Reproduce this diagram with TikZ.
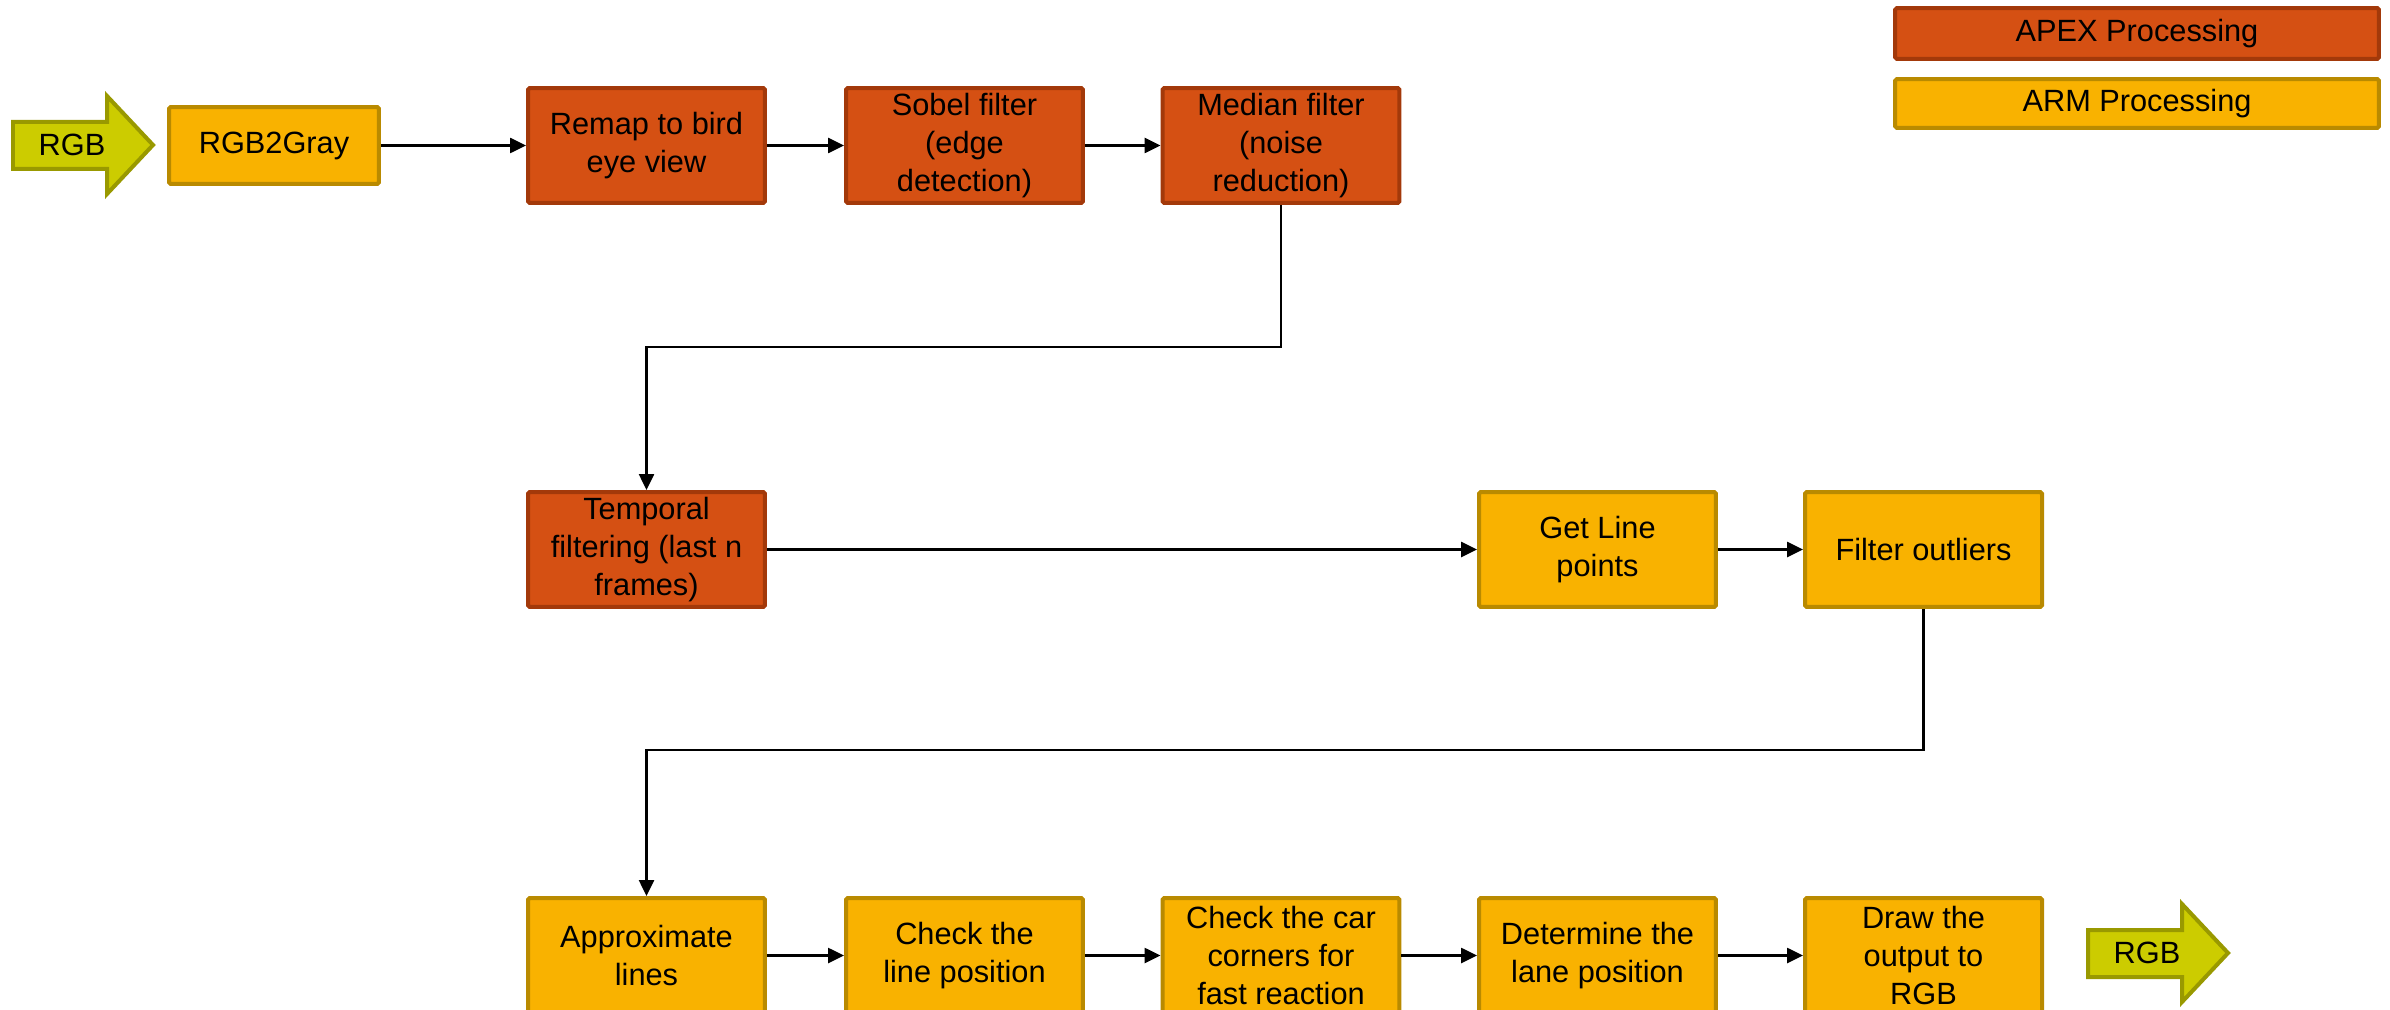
\documentclass[tikz,border=0pt]{standalone}
\usepackage{fontspec}
\setmainfont{Liberation Sans}
\usetikzlibrary{arrows.meta}

\definecolor{apexfill}{RGB}{213,80,19}
\definecolor{apexline}{RGB}{163,57,10}
\definecolor{armfill}{RGB}{249,178,0}
\definecolor{armline}{RGB}{185,138,0}
\definecolor{rgbfill}{RGB}{204,204,0}
\definecolor{rgbline}{RGB}{153,153,0}

\begin{document}
\begin{tikzpicture}[x=0.02cm, y=-0.02cm,
        font=\fontsize{17.5}{21.5}\selectfont,
        block/.style = {rectangle, rounded corners=1pt, line width=0.08cm, align=center,
                        minimum width=4.74cm, minimum height=2.3cm, inner sep=0pt},
        apex/.style  = {block, fill=apexfill, draw=apexline},
        arm/.style   = {block, fill=armfill, draw=armline},
        flow/.style  = {line width=0.05cm, -{Triangle[length=0.32cm,width=0.3cm]}},
        rgbarrow/.style = {fill=rgbfill, draw=rgbline, line width=0.08cm, line join=miter}]
    \useasboundingbox (0,0) rectangle (2390,1010);

    % legend
    \node[apex, minimum width=9.68cm, minimum height=1.02cm] (leg apex) at (2137,33.5) {APEX Processing};
    \node[arm, minimum width=9.68cm, minimum height=0.98cm] (leg arm) at (2137,103.5) {ARM Processing};

    % input arrow
    \draw[rgbarrow] (13,122) -- (107,122) -- (107,96) -- (153,145) -- (107,194) -- (107,169) -- (13,169) -- cycle;
    \node (rgb in) at (72,145) {RGB};

    % first row
    \node[arm, minimum width=4.2cm, minimum height=1.54cm] (gray) at (274,145.5) {RGB2Gray};
    \node[apex] (remap)  at (646.5,145.5) {Remap to bird\\eye view};
    \node[apex] (sobel)  at (964.5,145.5) {Sobel filter\\(edge\\detection)};
    \node[apex] (median) at (1281,145.5)  {Median filter\\(noise\\reduction)};

    % second row
    \node[apex] (temporal) at (646.5,549.5)  {Temporal\\filtering (last n\\frames)};
    \node[arm]  (points)   at (1597.5,549.5) {Get Line\\points};
    \node[arm]  (outliers) at (1923.5,549.5) {Filter outliers};

    % third row
    \node[arm] (approx)   at (646.5,955.5)  {Approximate\\lines};
    \node[arm] (linepos)  at (964.5,955.5)  {Check the\\line position};
    \node[arm] (corners)  at (1281,955.5)   {Check the car\\corners for\\fast reaction};
    \node[arm] (lanepos)  at (1597.5,955.5) {Determine the\\lane position};
    \node[arm] (output)   at (1923.5,955.5) {Draw the\\output to\\RGB};

    % output arrow
    \draw[rgbarrow] (2088,930) -- (2182,930) -- (2182,904) -- (2228,953) -- (2182,1002) -- (2182,977) -- (2088,977) -- cycle;
    \node (rgb out) at (2147,953) {RGB};

    % connections
    \draw[flow] (gray) -- (remap);
    \draw[flow] (remap) -- (sobel);
    \draw[flow] (sobel) -- (median);
    \draw[flow] (median.south) -- (median.south |- 0,347) -| (temporal.north);
    \draw[flow] (temporal) -- (points);
    \draw[flow] (points) -- (outliers);
    \draw[flow] (outliers.south) -- (outliers.south |- 0,750) -| (approx.north);
    \draw[flow] (approx) -- (linepos);
    \draw[flow] (linepos) -- (corners);
    \draw[flow] (corners) -- (lanepos);
    \draw[flow] (lanepos) -- (output);
\end{tikzpicture}
\end{document}
